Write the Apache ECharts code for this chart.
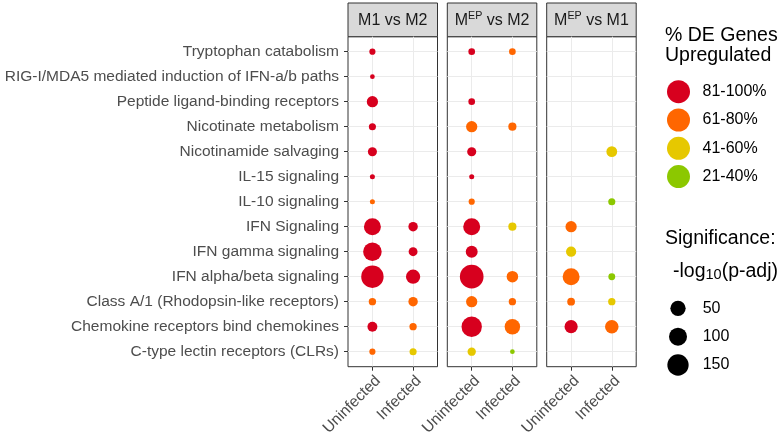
<!DOCTYPE html>
<html><head><meta charset="utf-8">
<script src="https://cdn.jsdelivr.net/npm/echarts@6/dist/echarts.min.js"></script>
<style>html,body{margin:0;padding:0;background:#fff}#c{width:782px;height:439px}</style>
</head><body><div id="c"></div>
<script>
// ---------------- DATA ----------------
const pathways = [
  'Tryptophan catabolism',
  'RIG-I/MDA5 mediated induction of IFN-a/b paths',
  'Peptide ligand-binding receptors',
  'Nicotinate metabolism',
  'Nicotinamide salvaging',
  'IL-15 signaling',
  'IL-10 signaling',
  'IFN Signaling',
  'IFN gamma signaling',
  'IFN alpha/beta signaling',
  'Class A/1 (Rhodopsin-like receptors)',
  'Chemokine receptors bind chemokines',
  'C-type lectin receptors (CLRs)'
];
const conditions = ['Uninfected', 'Infected'];
const panelTitles = ['M1 vs M2', 'MEP vs M2', 'MEP vs M1'];
const pctClasses = ['81-100%', '61-80%', '41-60%', '21-40%'];
const sizeBreaks = [50, 100, 150];

// rows: [pathway index, condition index, % class index, -log10(p-adj)]
const m1VsM2 = [
  [0,0,0,12],[1,0,0,7],[2,0,0,40],[3,0,0,16],[4,0,0,26],[5,0,0,8],[6,0,1,8],
  [7,0,0,91],[8,0,0,109],[9,0,0,158],[10,0,1,17],[11,0,0,31],[12,0,1,12],
  [7,1,0,28],[8,1,0,25],[9,1,0,64],[10,1,1,28],[11,1,1,17],[12,1,2,16]
];
const mepVsM2 = [
  [0,0,0,14],[2,0,0,14],[3,0,1,40],[4,0,0,26],[5,0,0,8],[6,0,1,12],
  [7,0,0,91],[8,0,0,45],[9,0,0,177],[10,0,1,40],[11,0,0,131],[12,0,2,22],
  [0,1,1,14],[3,1,1,21],[7,1,2,21],[9,1,1,42],[10,1,1,17],[11,1,1,76],[12,1,3,7]
];
const mepVsM1 = [
  [7,0,1,40],[8,0,2,33],[9,0,1,91],[10,0,1,19],[11,0,0,55],
  [4,1,2,37],[6,1,3,16],[9,1,3,15],[10,1,2,17],[11,1,1,58]
];
const panelData = [m1VsM2, mepVsM2, mepVsM1];

// ---------------- STYLE / LAYOUT ----------------
const FONT = '"Liberation Sans", Arial, sans-serif';
const COLORS = ['#D7001E', '#FF6600', '#E6C800', '#8CC800'];
const PANEL_LEFT = [348, 447.3, 546.7];
const PANEL_W = 89.5;
const PANEL_TOP = 36.7;
const PANEL_H = 330;
const STRIP_TOP = 3;
const SIZE_K = 1.78;
const sizeOf = v => SIZE_K * Math.sqrt(v);
const LEGEND_SIZE_DIAM = [15.3, 18, 21.3];
const AXIS_FONT = 15.5;

const grids = [], xAxes = [], yAxes = [], series = [];
const yTicks = pathways.map((_, i) => i + 1);
const xTicks = conditions.map((_, i) => i + 1);

for (let p = 0; p < 3; p++) {
  grids.push({
    left: PANEL_LEFT[p], top: PANEL_TOP, width: PANEL_W, height: PANEL_H,
    show: true, borderColor: '#333333', borderWidth: 1, backgroundColor: '#fff',
    outerBoundsMode: 'none', containLabel: false
  });
  xAxes.push({
    type: 'value', gridIndex: p, min: 0.4, max: 2.6,
    axisLine: { show: false },
    axisTick: { show: true, length: 4, customValues: xTicks, lineStyle: { color: '#333333' } },
    axisLabel: {
      show: true, customValues: xTicks, rotate: 45, margin: 6,
      align: 'right', verticalAlign: 'top',
      fontFamily: FONT, fontSize: AXIS_FONT, color: '#4D4D4D',
      formatter: v => conditions[Math.round(v) - 1] || ''
    },
    splitLine: { show: true, lineStyle: { color: '#EBEBEB', width: 1 } }
  });
  yAxes.push({
    type: 'value', gridIndex: p, min: 0.4, max: 13.6, inverse: true,
    axisLine: { show: false },
    axisTick: { show: p === 0, length: 4, customValues: yTicks, lineStyle: { color: '#333333' } },
    axisLabel: {
      show: p === 0, customValues: yTicks, margin: 9,
      fontFamily: FONT, fontSize: AXIS_FONT, color: '#4D4D4D',
      formatter: v => pathways[Math.round(v) - 1] || ''
    },
    splitLine: { show: true, lineStyle: { color: '#EBEBEB', width: 1 } }
  });
  for (let c = 0; c < pctClasses.length; c++) {
    series.push({
      type: 'scatter', name: pctClasses[c], xAxisIndex: p, yAxisIndex: p,
      data: panelData[p].filter(r => r[2] === c).map(r => [r[1] + 1, r[0] + 1, r[3]]),
      symbol: 'circle',
      symbolSize: v => sizeOf(v[2]),
      itemStyle: { color: COLORS[c], opacity: 1 },
      emphasis: { disabled: true },
      silent: true
    });
  }
}

const graphics = [];
for (let p = 0; p < 3; p++) {
  graphics.push({
    type: 'rect', silent: true,
    shape: { x: PANEL_LEFT[p], y: STRIP_TOP, width: PANEL_W, height: PANEL_TOP - STRIP_TOP },
    style: { fill: '#D9D9D9', stroke: '#333333', lineWidth: 1 }
  });
  graphics.push({
    type: 'text', silent: true,
    style: {
      x: PANEL_LEFT[p] + PANEL_W / 2, y: 21,
      text: panelTitles[p].replace(/^MEP/, 'M{sup|EP}'),
      fontFamily: FONT, fontSize: 16, lineHeight: 20, fill: '#1A1A1A',
      align: 'center', verticalAlign: 'middle',
      rich: { sup: { fontFamily: FONT, fontSize: 10.7, lineHeight: 10.4, verticalAlign: 'top', fill: '#1A1A1A' } }
    }
  });
}
// colour legend title
graphics.push({ type: 'text', silent: true, style: { x: 665, y: 35.2, text: '% DE Genes', fontFamily: FONT, fontSize: 19.5, fill: '#000', align: 'left', verticalAlign: 'middle' } });
graphics.push({ type: 'text', silent: true, style: { x: 665, y: 55.2, text: 'Upregulated', fontFamily: FONT, fontSize: 19.5, fill: '#000', align: 'left', verticalAlign: 'middle' } });
// size legend title
graphics.push({ type: 'text', silent: true, style: { x: 665, y: 238.2, text: 'Significance:', fontFamily: FONT, fontSize: 19.5, fill: '#000', align: 'left', verticalAlign: 'middle' } });
graphics.push({ type: 'text', silent: true, style: {
  x: 673, y: 271.2, text: '-log{sub|10}(p-adj)', fontFamily: FONT, fontSize: 19.5, lineHeight: 22, fill: '#000',
  align: 'left', verticalAlign: 'middle',
  rich: { sub: { fontFamily: FONT, fontSize: 14.5, lineHeight: 8.8, verticalAlign: 'bottom', fill: '#000' } }
} });
// size legend keys
const SIZE_KEY_Y = [308.3, 336.7, 365];
sizeBreaks.forEach((b, i) => {
  graphics.push({ type: 'circle', silent: true, shape: { cx: 678, cy: SIZE_KEY_Y[i], r: LEGEND_SIZE_DIAM[i] / 2 }, style: { fill: '#000' } });
  graphics.push({ type: 'text', silent: true, style: { x: 702.7, y: SIZE_KEY_Y[i], text: String(b), fontFamily: FONT, fontSize: 16, fill: '#000', align: 'left', verticalAlign: 'middle' } });
});

const chart = echarts.init(document.getElementById('c'), null, { renderer: 'canvas' });
chart.setOption({
  animation: false,
  backgroundColor: '#fff',
  grid: grids, xAxis: xAxes, yAxis: yAxes, series: series,
  legend: {
    orient: 'vertical', left: 662, top: 75.2, padding: 5,
    itemWidth: 38, itemHeight: 23, itemGap: 5.3, icon: 'circle',
    selectedMode: false,
    data: pctClasses,
    textStyle: { fontFamily: FONT, fontSize: 16, color: '#000' }
  },
  graphic: graphics
});
</script></body></html>
